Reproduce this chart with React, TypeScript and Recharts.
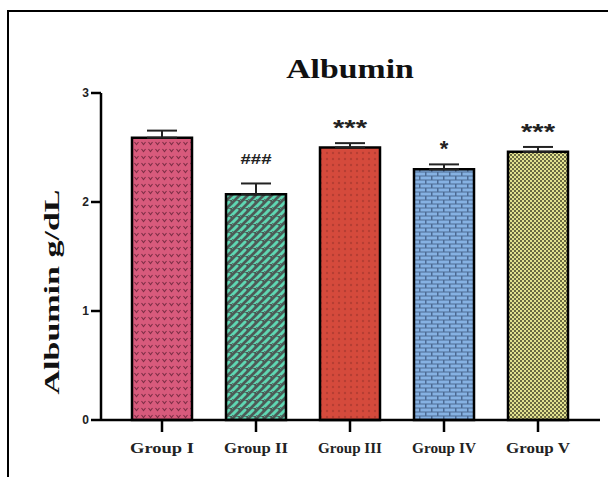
import React from "react";
import { BarChart, Bar, XAxis, YAxis, ErrorBar, Cell, LabelList } from "recharts";

const groups = ["Group I", "Group II", "Group III", "Group IV", "Group V"];
const albumin = [2.59, 2.07, 2.5, 2.3, 2.46];
const sem = [0.065, 0.1, 0.04, 0.045, 0.045];
const significance = ["", "###", "***", "*", "***"];
const yTicks = [0, 1, 2, 3];

const data = groups.map((g, i) => ({
  group: g,
  value: albumin[i],
  err: [0, sem[i]],
  sig: significance[i],
}));

const patternIds = ["pHeart", "pDash", "pDot", "pBrick", "pCheck"];

const serif = '"Liberation Serif", "Times New Roman", serif';
const sans = '"Liberation Sans", Arial, sans-serif';

const SigLabel = (props: any) => {
  const { x, y, width, height, value, index } = props;
  if (!value) return null;
  const pxPerUnit = height / albumin[index];
  const capY = y - sem[index] * pxPerUnit;
  const isHash = String(value).includes("#");
  const len = String(value).length;
  return (
    <text
      x={x + width / 2}
      y={isHash ? capY - 19 : capY - 8}
      textAnchor="middle"
      fontFamily={sans}
      fontWeight="bold"
      fontSize={isHash ? 14 : 22}
      fill="#222"
      textLength={isHash ? 31 : len > 1 ? 34 : undefined}
      lengthAdjust="spacingAndGlyphs"
    >
      {value}
    </text>
  );
};

const XTick = (props: any) => {
  const { x, y, payload } = props;
  return (
    <text
      x={x}
      y={y + 19}
      textAnchor="middle"
      fontFamily={serif}
      fontWeight="bold"
      fontSize={15}
      fill="#222"
      textLength={64}
      lengthAdjust="spacingAndGlyphs"
    >
      {payload.value}
    </text>
  );
};

const YLabel = () => {
  const cx = 52;
  const cy = 292;
  return (
    <text
      x={cx}
      y={cy}
      transform={`rotate(-90 ${cx} ${cy})`}
      textAnchor="middle"
      dominantBaseline="central"
      fontFamily={serif}
      fontWeight="bold"
      fontSize={21}
      fill="#111"
      textLength={205}
      lengthAdjust="spacingAndGlyphs"
    >
      Albumin g/dL
    </text>
  );
};

export default function App() {
  return (
    <div style={{ position: "absolute", left: 0, top: 0, width: 608, height: 477, background: "#fff", overflow: "hidden" }}>
      <div
        style={{
          position: "absolute",
          left: 7,
          top: 10,
          width: 700,
          height: 600,
          borderTop: "2.5px solid #000",
          borderLeft: "2.5px solid #000",
          boxSizing: "border-box",
        }}
      />
      <div
        style={{
          position: "absolute",
          left: 0,
          top: 54,
          width: 700,
          textAlign: "center",
          fontFamily: serif,
          fontWeight: "bold",
          fontSize: 27,
          color: "#111",
        }}
      >
        <span style={{ display: "inline-block", transform: "scaleX(1.25)" }}>Albumin</span>
      </div>
      <div style={{ position: "absolute", left: 0, top: 0 }}>
        <BarChart
          width={608}
          height={477}
          data={data}
          margin={{ top: 93, right: 8, bottom: 27, left: 61 }}
          barCategoryGap={0}
        >
          <defs>
            <pattern id="pHeart" width="7" height="7" patternUnits="userSpaceOnUse">
              <rect width="7" height="7" fill="#d85a7c" />
              <path d="M1.5 2 L3.5 4.5 L5.5 2" stroke="#7d2d45" strokeWidth="1.1" fill="none" />
            </pattern>
            <pattern id="pDash" width="8" height="8" patternUnits="userSpaceOnUse">
              <rect width="8" height="8" fill="#4c5a56" />
              <line x1="1" y1="6" x2="5" y2="2" stroke="#5fd6b2" strokeWidth="3" strokeLinecap="round" />
              <line x1="5" y1="10" x2="9" y2="6" stroke="#5fd6b2" strokeWidth="3" strokeLinecap="round" />
              <line x1="-3" y1="2" x2="1" y2="-2" stroke="#5fd6b2" strokeWidth="3" strokeLinecap="round" />
            </pattern>
            <pattern id="pDot" width="6" height="6" patternUnits="userSpaceOnUse">
              <rect width="6" height="6" fill="#d54a3c" />
              <circle cx="3" cy="3" r="1.2" fill="#b53d32" />
            </pattern>
            <pattern id="pBrick" width="12" height="8" patternUnits="userSpaceOnUse">
              <rect width="12" height="8" fill="#4d6b94" />
              <rect x="0.5" y="0.5" width="10.5" height="3" fill="#86b2e3" />
              <rect x="-5.5" y="4.5" width="10.5" height="3" fill="#86b2e3" />
              <rect x="6.5" y="4.5" width="10.5" height="3" fill="#86b2e3" />
            </pattern>
            <pattern id="pCheck" width="4" height="4" patternUnits="userSpaceOnUse">
              <rect width="4" height="4" fill="#e2e290" />
              <rect width="2" height="2" fill="#6b6a42" />
              <rect x="2" y="2" width="2" height="2" fill="#6b6a42" />
            </pattern>
          </defs>
          <XAxis
            dataKey="group"
            axisLine={{ stroke: "#000", strokeWidth: 2.5 }}
            tickLine={{ stroke: "#000", strokeWidth: 2.5 }}
            tickSize={12}
            tick={<XTick />}
            padding={{ left: 14, right: 15 }}
            interval={0}
            height={30}
          />
          <YAxis
            domain={[0, 3]}
            ticks={yTicks}
            width={40}
            axisLine={{ stroke: "#000", strokeWidth: 2.5 }}
            tickLine={{ stroke: "#000", strokeWidth: 2.5 }}
            tickSize={10}
            tick={{ fontFamily: sans, fontWeight: "bold", fontSize: 12, fill: "#222" }}
            label={<YLabel />}
          />
          <Bar dataKey="value" barSize={60} stroke="#000" strokeWidth={2.5} isAnimationActive={false}>
            {data.map((d, i) => (
              <Cell key={d.group} fill={`url(#${patternIds[i]})`} />
            ))}
            <ErrorBar dataKey="err" width={15} stroke="#222" strokeWidth={2} direction="y" />
            <LabelList dataKey="sig" content={<SigLabel />} />
          </Bar>
        </BarChart>
      </div>
    </div>
  );
}
